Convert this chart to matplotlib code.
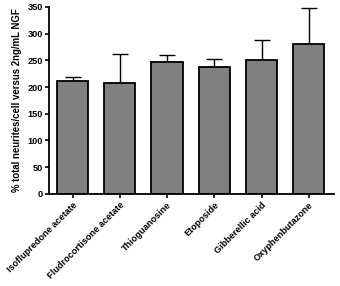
import numpy as np
import matplotlib
matplotlib.use('Agg')
import matplotlib.pyplot as plt

plt.rcParams['font.family'] = ['Liberation Sans', 'DejaVu Sans']

# compuestos y valores
compuestos = ['Isoflupredone acetate', 'Fludrocortisone acetate', 'Thioguanosine',
              'Etoposide', 'Gibberellic acid', 'Oxyphenbutazone']
medias = [212, 208, 246, 238, 250, 281]
errores = [6, 54, 13, 15, 38, 66]

fig = plt.figure(figsize=(3.4, 2.86), dpi=100)
ax = fig.add_axes([0.144, 0.322, 0.838, 0.654])

x = np.arange(len(compuestos))
ax.bar(x, medias, width=0.66, color='#808080', edgecolor='black', linewidth=1.3, zorder=2)
ax.errorbar(x, medias, yerr=[np.zeros(len(errores)), errores], fmt='none',
            ecolor='black', elinewidth=1.0, capsize=6, capthick=1.0, zorder=1)

ax.set_xlim(-0.5, 5.53)
ax.set_ylim(0, 350)
ax.set_yticks(range(0, 351, 50))
ax.set_xticks(x)
ax.set_xticklabels(compuestos, rotation=45, ha='right', rotation_mode='anchor',
                   fontsize=6.6, fontweight='bold')
for lab in ax.get_yticklabels():
    lab.set_fontsize(6.6)
    lab.set_fontweight('bold')
ax.set_ylabel('% total neurites/cell versus 2ng/mL NGF', fontsize=6.9, fontweight='bold',
              labelpad=4)

ax.spines['top'].set_visible(False)
ax.spines['right'].set_visible(False)
ax.spines['left'].set_linewidth(1.3)
ax.spines['bottom'].set_linewidth(1.3)
ax.tick_params(width=1.2, length=3, pad=1.5)

fig.savefig('out.png', dpi=100)
